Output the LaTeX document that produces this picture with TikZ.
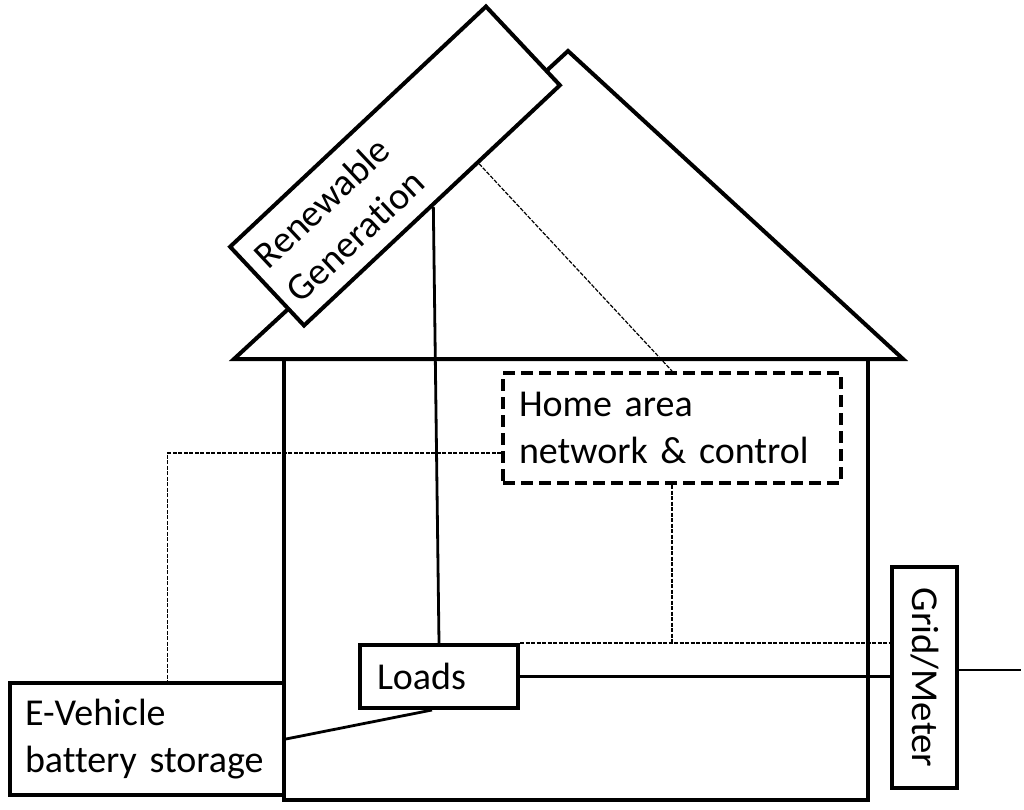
\documentclass[tikz,border=0pt]{standalone}
\usepackage{fontspec}
\setmainfont{Carlito}[Ligatures=NoCommon]
\usetikzlibrary{calc}
\begin{document}
\begin{tikzpicture}[x=1pt,y=-1pt,
  wall/.style={line width=4pt},
  box/.style={draw, line width=4pt, fill=white, inner sep=0pt,
    font=\fontsize{38}{47}\selectfont},
  sig/.style={line width=1.2pt, dash pattern=on 4pt off 1.5pt},
  power/.style={line width=2.8pt}]
\useasboundingbox (0,0) rectangle (1024,810);
% roof and walls
\draw[wall] (234,359) -- (568,51) -- (903,359) -- cycle;
\draw[wall] (284,359) -- (284,800) -- (868,800) -- (868,359);
% nodes
\node[box, rotate=43.2, minimum width=351, minimum height=108,
  text width=327, align=left] (ren) at (395,166) {\mbox{Renewable}\\\mbox{Generation}};
\node[draw, line width=4pt, dash pattern=on 12pt off 6pt, inner sep=0pt,
  minimum width=338, minimum height=110, text width=306, align=left,
  font=\fontsize{38}{47}\selectfont] (han) at (672,428) {\mbox{Home area}\\\mbox{network \& control}};
\node[box, minimum width=158, minimum height=63, text width=124, align=left] (loads) at (439,676.5) {Loads};
\node[box, minimum width=274, minimum height=112, text width=244, align=left] (ev) at (147,739) {\mbox{E-Vehicle}\\\mbox{battery storage}};
\node[box, minimum width=65, minimum height=221] (grid) at (924.5,677.5) {\rotatebox{-90}{\scalebox{1.02}[1]{Grid/Meter}}};
% connectors
\coordinate (gridout) at (1021,670);
\coordinate (hanl) at ($(han.south west)!0.28!(han.north west)$);
\coordinate (evtap) at ($(ev.north west)!0.573!(ev.north east)$);
\coordinate (rentap) at ($(ren.south)!0.354!(ren.south east)$);
\draw[power] (ren.south) -- (loads.north);
\draw[power] ($(loads.south)+(-7,0)$) -- (ev.east);
\draw[power] (loads.east) -- (loads.east -| grid.west);
\draw[power] ($(grid.east)+(0,-7.5)$) -- (gridout);
\draw[sig] (loads.north east) -- (loads.north east -| grid.west);
\draw[sig] (han.south) -- (han.south |- loads.north);
\draw[sig] (hanl) -- (hanl -| evtap) -- (evtap);
\draw[sig] (rentap) -- (han.north);
\end{tikzpicture}
\end{document}
